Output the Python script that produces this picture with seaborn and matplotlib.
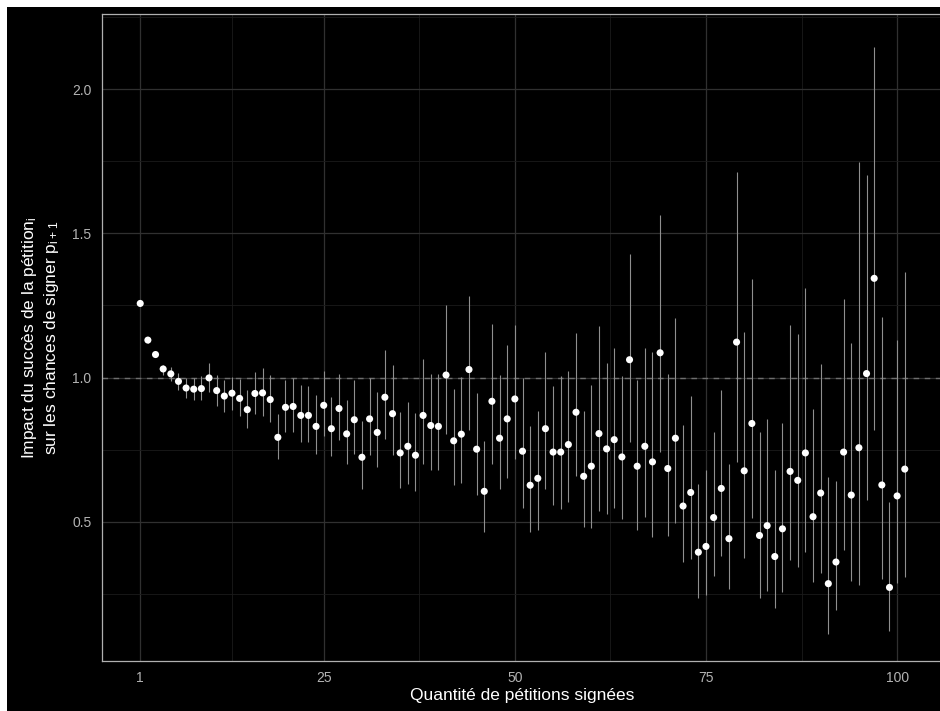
import matplotlib

matplotlib.use("Agg")

import matplotlib.pyplot as plt
import pandas as pd
import seaborn as sns
from matplotlib.patches import Rectangle
from matplotlib.ticker import FixedLocator

# number of petitions signed (1..101)
petitions = list(range(1, 102))

estimate = [
    1.257, 1.13, 1.08, 1.03, 1.013, 0.987, 0.964, 0.96, 0.962, 0.999,
    0.955, 0.936, 0.946, 0.928, 0.889, 0.945, 0.947, 0.924, 0.793, 0.897,
    0.90, 0.869, 0.869, 0.831, 0.904, 0.823, 0.893, 0.805, 0.854, 0.724,
    0.857, 0.81, 0.932, 0.875, 0.739, 0.762, 0.731, 0.869, 0.834, 0.831,
    1.009, 0.781, 0.804, 1.028, 0.752, 0.606, 0.918, 0.79, 0.857, 0.926,
    0.745, 0.627, 0.651, 0.823, 0.742, 0.742, 0.768, 0.88, 0.658, 0.693,
    0.806, 0.753, 0.785, 0.725, 1.062, 0.693, 0.762, 0.708, 1.086, 0.685,
    0.79, 0.555, 0.602, 0.395, 0.415, 0.515, 0.616, 0.442, 1.123, 0.677,
    0.841, 0.453, 0.487, 0.38, 0.476, 0.675, 0.644, 0.739, 0.518, 0.60,
    0.286, 0.361, 0.742, 0.593, 0.757, 1.014, 1.344, 0.628, 0.273, 0.59,
    0.683,
]

lower = [
    1.25, 1.12, 1.07, 1.01, 0.987, 0.958, 0.93, 0.924, 0.921, 0.949,
    0.903, 0.881, 0.887, 0.866, 0.826, 0.873, 0.868, 0.845, 0.719, 0.81,
    0.812, 0.776, 0.776, 0.734, 0.799, 0.727, 0.783, 0.699, 0.737, 0.614,
    0.733, 0.689, 0.789, 0.733, 0.618, 0.633, 0.606, 0.702, 0.679, 0.679,
    0.806, 0.627, 0.635, 0.817, 0.592, 0.465, 0.702, 0.615, 0.652, 0.718,
    0.547, 0.465, 0.473, 0.615, 0.558, 0.543, 0.569, 0.66, 0.483, 0.479,
    0.539, 0.529, 0.548, 0.511, 0.776, 0.473, 0.516, 0.447, 0.741, 0.45,
    0.497, 0.36, 0.372, 0.237, 0.245, 0.314, 0.383, 0.269, 0.708, 0.374,
    0.514, 0.238, 0.26, 0.201, 0.256, 0.368, 0.343, 0.395, 0.291, 0.323,
    0.113, 0.195, 0.401, 0.295, 0.282, 0.576, 0.818, 0.302, 0.121, 0.288,
    0.31,
]

upper = [
    1.265, 1.14, 1.09, 1.045, 1.037, 1.016, 1.0, 1.0, 1.005, 1.051,
    1.008, 0.993, 1.002, 0.995, 0.956, 1.021, 1.032, 1.01, 0.875, 0.991,
    0.999, 0.976, 0.972, 0.941, 1.022, 0.933, 1.014, 0.924, 0.99, 0.851,
    0.999, 0.949, 1.094, 1.045, 0.881, 0.916, 0.878, 1.066, 1.014, 1.013,
    1.253, 0.962, 1.002, 1.284, 0.945, 0.779, 1.186, 1.01, 1.114, 1.184,
    0.999, 0.834, 0.883, 1.088, 0.972, 1.005, 1.024, 1.155, 0.886, 0.976,
    1.178, 1.051, 1.103, 1.005, 1.43, 0.99, 1.103, 1.088, 1.562, 1.013,
    1.208, 0.837, 0.935, 0.633, 0.681, 0.812, 0.956, 0.699, 1.713, 1.157,
    1.342, 0.812, 0.858, 0.681, 0.841, 1.181, 1.151, 1.312, 0.891, 1.048,
    0.654, 0.642, 1.272, 1.121, 1.747, 1.703, 2.147, 1.21, 0.569, 1.131,
    1.366,
]

x_ticks = [1, 25, 50, 75, 100]
y_ticks = [0.5, 1.0, 1.5, 2.0]

df = pd.DataFrame({"n": petitions, "est": estimate, "lo": lower, "hi": upper})

sns.set_style("white")
plt.rcParams["font.family"] = ["Liberation Sans", "DejaVu Sans"]
plt.rcParams["mathtext.default"] = "regular"

fig = plt.figure(figsize=(9.4, 7.11), dpi=100, facecolor="white")
# black plot background (small white strip on top / left like the original)
fig.patches.append(Rectangle((7 / 940, 0), 1, 1 - 7 / 711, transform=fig.transFigure,
                             facecolor="black", edgecolor="none", zorder=-10))
ax = fig.add_axes([102 / 940, 1 - 661 / 711, 841 / 940, 647 / 711])
ax.set_facecolor("black")

ax.set_xlim(-4, 106)
ax.set_ylim(0.018, 2.26)

ax.xaxis.set_major_locator(FixedLocator(x_ticks))
ax.xaxis.set_minor_locator(FixedLocator([13, 37.5, 62.5, 87.5]))
ax.yaxis.set_major_locator(FixedLocator(y_ticks))
ax.yaxis.set_minor_locator(FixedLocator([0.25, 0.75, 1.25, 1.75, 2.25]))
ax.set_xticklabels([str(t) for t in x_ticks])
ax.set_yticklabels([f"{t:.1f}" for t in y_ticks])

ax.grid(which="major", color="#303030", linewidth=0.9)
ax.grid(which="minor", color="#1b1b1b", linewidth=0.6)
ax.set_axisbelow(True)

ax.axhline(1.0, color="#6e6e6e", linestyle=(0, (4, 4)), linewidth=1.0, zorder=2)
ax.vlines(df["n"], df["lo"], df["hi"], color="#8f8f8f", linewidth=0.8, zorder=3)
sns.scatterplot(data=df, x="n", y="est", color="white", s=26, edgecolor="none",
                zorder=4, ax=ax)

for side, spine in ax.spines.items():
    spine.set_color("#b0b0b0")
    spine.set_linewidth(0.9)
    spine.set_visible(True)

ax.tick_params(which="major", length=4, width=0.8, color="#b0b0b0",
               labelcolor="#b3b3b3", labelsize=10)
ax.tick_params(which="minor", length=0)

ax.set_xlabel("Quantité de pétitions signées", color="white", fontsize=12.5, labelpad=2)
ax.set_ylabel("Impact du succès de la pétition$_{i}$\nsur les chances de signer p$_{i+1}$",
              color="white", fontsize=12.5, labelpad=8, linespacing=1.25)

fig.savefig("out.png", dpi=100, facecolor=fig.get_facecolor())
